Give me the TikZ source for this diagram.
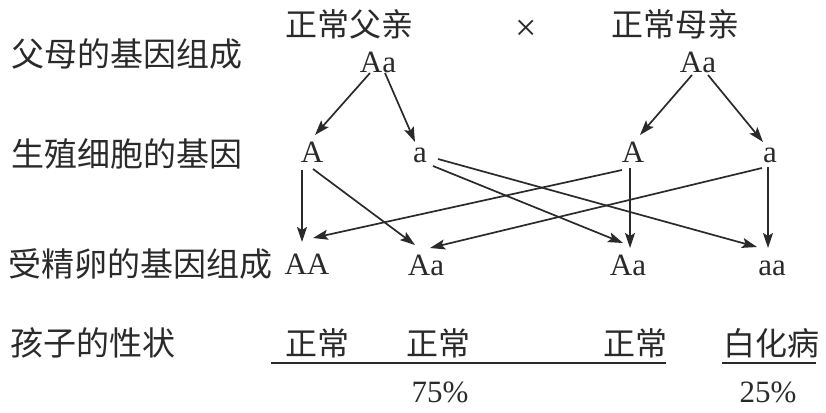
\documentclass[tikz,border=0pt]{standalone}
\usepackage{fontspec}
\setmainfont{Liberation Serif}
\newfontfamily\cjk{Noto Sans CJK SC}
\usepackage{xcolor}
\usetikzlibrary{arrows.meta}

\definecolor{ink}{HTML}{2A2A2A}

\begin{document}
\begin{tikzpicture}[x=1pt, y=-1pt, every node/.style={inner sep=0pt, text=ink},
    zh/.style={font=\cjk\fontsize{33}{33}\selectfont},
    zhs/.style={font=\cjk\fontsize{32}{32}\selectfont},
    gene/.style={font=\fontsize{31}{31}\selectfont},
    arr/.style={draw=ink, line width=1.7pt, -{Stealth[length=15pt, width=10pt, inset=3pt]}}]
    \useasboundingbox (0,0) rectangle (826,412);
    % row labels
    \node[zh, anchor=west] (rowparent) at (11,54) {父母的基因组成};
    \node[zh, anchor=west] (rowgamete) at (11,154) {生殖细胞的基因};
    \node[zh, anchor=west] (rowzygote) at (8,264) {受精卵的基因组成};
    \node[zh, anchor=west] (rowtrait) at (10,343) {孩子的性状};
    % parents
    \node[zhs] (father) at (349,24) {正常父亲};
    \node[font=\fontsize{38}{38}\selectfont] (times) at (526,30) {×};
    \node[zhs] (mother) at (675,24) {正常母亲};
    \node[gene] (fP) at (378,62) {Aa};
    \node[gene] (mP) at (698,62) {Aa};
    % gametes
    \node[gene] (fA) at (312,152) {A};
    \node[gene] (fa) at (420,155) {a};
    \node[gene] (mA) at (633,152) {A};
    \node[gene] (ma) at (770,155) {a};
    % zygotes
    \node[gene] (AA) at (307,264) {AA};
    \node[gene] (fAa) at (426,265) {Aa};
    \node[gene] (mAa) at (628,265) {Aa};
    \node[gene] (aa) at (772,268) {aa};
    % traits
    \node[zhs] (t1) at (317,343) {正常};
    \node[zhs] (t2) at (438,343) {正常};
    \node[zhs] (t3) at (635,343) {正常};
    \node[zhs] (t4) at (771,343) {白化病};
    \node[gene] (p75) at (440,392) {75\%};
    \node[gene] (p25) at (768,392) {25\%};
    \draw[ink, line width=2pt] (271,363) -- (666,363);
    \draw[ink, line width=2pt] (722,363) -- (816,363);
    % parents to gametes
    \draw[arr] ([shift={(-8,11)}]fP.center) -- ([shift={(3,-17)}]fA.center);
    \draw[arr] ([shift={(7,11)}]fP.center) -- ([shift={(-5,-13)}]fa.center);
    \draw[arr] ([shift={(-6,13)}]mP.center) -- ([shift={(7,-17)}]mA.center);
    \draw[arr] ([shift={(10,13)}]mP.center) -- ([shift={(-7,-13)}]ma.center);
    % gametes to zygotes
    \draw[arr] ([shift={(-10,18)}]fA.center) -- ([shift={(-5,-22)}]AA.center);
    \draw[arr] ([shift={(1,17)}]fA.center) -- ([shift={(-11,-20)}]fAa.center);
    \draw[arr] ([shift={(13,11)}]fa.center) -- ([shift={(-5,-22)}]mAa.center);
    \draw[arr] ([shift={(18,4)}]fa.center) -- ([shift={(-15,-21)}]aa.center);
    \draw[arr] ([shift={(-11,18)}]mA.center) -- ([shift={(6,-26)}]AA.center);
    \draw[arr] ([shift={(-3,16)}]mA.center) -- ([shift={(2,-17)}]mAa.center);
    \draw[arr] ([shift={(-8,13)}]ma.center) -- ([shift={(4,-17)}]fAa.center);
    \draw[arr] ([shift={(-2,12)}]ma.center) -- ([shift={(-4,-20)}]aa.center);
\end{tikzpicture}
\end{document}
